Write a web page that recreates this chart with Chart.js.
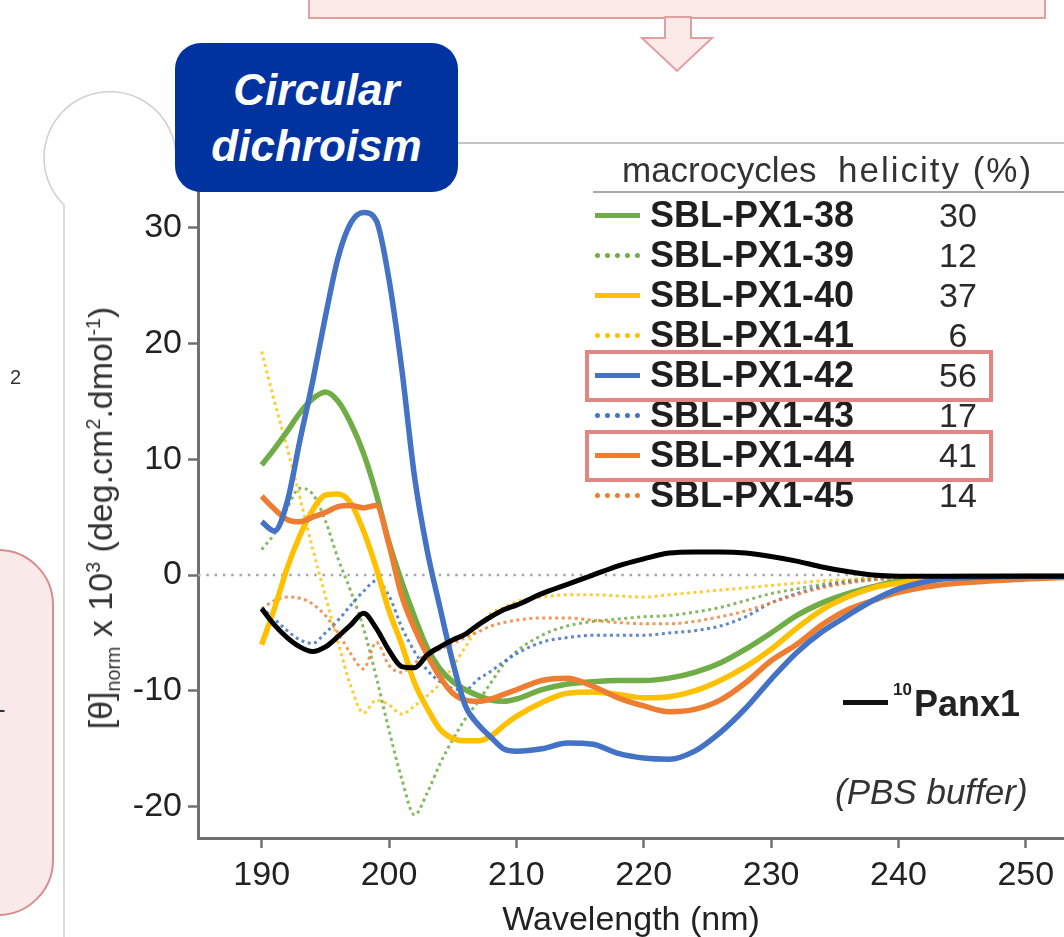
<!DOCTYPE html>
<html>
<head>
<meta charset="utf-8">
<script src="https://cdn.jsdelivr.net/npm/chart.js@4.4.1/dist/chart.umd.min.js"></script>
<style>
body{margin:0;background:#fff;font-family:'Liberation Sans',Arial,sans-serif;}
#page{position:relative;width:1064px;height:937px;overflow:hidden;background:#fff;}
#deco{position:absolute;left:0;top:0;z-index:0;}
#cd{position:absolute;left:0;top:0;z-index:1;}
#badge{position:absolute;left:175px;top:43px;width:283px;height:149px;background:#0033a0;border-radius:26px;z-index:3;
  color:#fff;font-weight:bold;font-style:italic;font-size:44px;line-height:56px;text-align:center;
  display:flex;align-items:center;justify-content:center;}
#ytitle{position:absolute;left:100px;top:518px;transform:translate(-50%,-50%) rotate(-90deg);white-space:nowrap;
  font-size:34px;color:#333;z-index:2;line-height:1;}
#ytitle sub,#ytitle sup{font-size:58%;line-height:0;}
.topline{position:absolute;height:2px;background:#c4c4c4;z-index:2;}
.hdr{position:absolute;top:150px;font-size:35px;color:#333;line-height:40px;z-index:2;white-space:nowrap;}
.row{position:absolute;left:0;height:40px;line-height:40px;z-index:4;}
.row .smp{position:absolute;left:595px;width:45px;top:18px;height:0;}
.row .nm{position:absolute;left:650px;font-weight:bold;font-size:36px;color:#1e1e1e;white-space:nowrap;}
.row .hv{position:absolute;left:908px;width:100px;text-align:center;font-size:34px;color:#2a2a2a;}
.hl{position:absolute;left:585px;width:400px;height:44px;border:4px solid #e28683;background:#fff;z-index:3;}
#panx{position:absolute;left:843px;top:682px;height:44px;z-index:2;white-space:nowrap;}
#panx .ln{position:absolute;left:0;top:18px;width:45px;height:5px;background:#111;}
#panx .sp{position:absolute;left:50px;top:-2px;font-size:17px;font-weight:bold;color:#222;}
#panx .tx{position:absolute;left:71px;top:0;font-size:36px;font-weight:bold;color:#222;line-height:44px;}
#buffer{position:absolute;left:835px;top:772px;font-size:35px;font-style:italic;color:#333;z-index:2;white-space:nowrap;}
.frag{position:absolute;color:#333;z-index:2;}
</style>
</head>
<body>
<div id="page">
  <svg id="deco" width="1064" height="937">
    <rect x="309" y="-5" width="736" height="23" fill="#fbeae8" stroke="#e0a0a0" stroke-width="2"/>
    <polygon points="665,17 691,17 691,38 712,38 677,71 642,38 665,38" fill="#fbeae8" stroke="#e0a0a0" stroke-width="2"/>
    <path d="M64 937 L64 205 A66 66 0 1 1 176 158" fill="none" stroke="#cfcfcf" stroke-width="1.5"/>
    <rect x="-60" y="550" width="113" height="365" rx="55" ry="55" fill="#f9e9e9" stroke="#d98c8c" stroke-width="2"/>
  </svg>
  <span class="frag" style="left:10px;top:366px;font-size:20px;">2</span>
  <span class="frag" style="left:-3px;top:694px;font-size:26px;">-</span>
  <canvas id="cd" width="1064" height="937"></canvas>
  <div id="badge"><div>Circular<br>dichroism</div></div>
  <div id="ytitle">[θ]<sub>norm</sub> x 10<sup>3</sup> (deg.cm<sup>2</sup>.dmol<sup>-1</sup>)</div>
  <div class="topline" style="left:458px;top:142px;width:606px;"></div>
  <div class="topline" style="left:593px;top:191px;width:471px;background:#a8a8a8;"></div>
  <div class="hdr" style="left:622px;">macrocycles</div>
  <div class="hdr" style="left:838px;letter-spacing:2px;">helicity (%)</div>
  <div id="legend"></div>
  <div id="panx"><div class="ln"></div><span class="sp">10</span><span class="tx">Panx1</span></div>
  <div id="buffer">(PBS buffer)</div>
</div>
<script>
// wavelength grid (nm)
const wavelength = [190,191,192,193,194,195,196,197,198,199,200,201,202,203,204,205,206,207,208,209,210,
  212,214,216,218,220,222,224,226,228,230,232,234,236,238,240,243,246,250,253];

// [θ]norm x 10^3
const px38 = [9.5,10.9,12.4,14.0,15.2,15.8,15.0,13.1,10.5,7.0,2.8,-0.6,-3.6,-6.3,-8.1,-9.2,-9.9,-10.4,-10.8,-10.9,-10.7,
  -9.9,-9.4,-9.2,-9.1,-9.1,-8.9,-8.4,-7.6,-6.4,-5.0,-3.5,-2.4,-1.6,-1.0,-0.5,-0.2,-0.1,-0.1,-0.1];
const px39 = [2.2,3.6,5.8,7.5,7.0,4.7,1.4,-1.4,-4.6,-8.8,-13.4,-17.6,-20.7,-18.8,-16.3,-14.2,-12.4,-10.9,-9.3,-7.7,-6.6,
  -5.2,-4.4,-4.0,-3.8,-3.6,-3.5,-3.2,-2.8,-2.2,-1.6,-1.2,-0.8,-0.5,-0.2,-0.1,-0.1,-0.1,-0.1,-0.1];
const px40 = [-6.0,-2.9,0.6,3.4,5.6,6.9,7.0,6.2,3.8,0.6,-3.1,-6.0,-9.3,-11.5,-13.3,-14.1,-14.3,-14.3,-13.9,-13.0,-12.2,
  -11.0,-10.2,-10.1,-10.3,-10.6,-10.5,-10.0,-9.1,-7.9,-6.4,-4.6,-3.0,-1.9,-1.1,-0.7,-0.3,-0.2,-0.1,-0.1];
const px41 = [19.3,15.0,11.0,6.7,2.3,-1.8,-5.8,-9.6,-11.9,-10.8,-11.2,-12.0,-11.3,-10.4,-9.4,-7.9,-6.2,-4.5,-3.3,-2.8,-2.3,
  -1.9,-1.7,-1.7,-1.8,-1.9,-1.7,-1.5,-1.3,-1.1,-0.9,-0.7,-0.5,-0.4,-0.3,-0.2,-0.1,-0.1,-0.1,-0.1];
const px42 = [4.6,3.8,6.3,11.6,16.7,22.3,27.4,30.4,31.3,30.6,25.5,17.8,8.5,2.1,-2.8,-7.5,-11.3,-12.9,-14.0,-15.0,-15.2,
  -15.0,-14.5,-14.6,-15.4,-15.8,-15.9,-15.2,-13.6,-11.5,-9.0,-6.7,-4.9,-3.5,-2.2,-1.2,-0.4,-0.2,-0.1,-0.1];
const px43 = [-2.8,-3.8,-4.8,-5.6,-5.9,-5.0,-3.9,-2.6,-1.4,-0.5,-1.8,-4.5,-6.6,-8.2,-9.2,-9.8,-9.9,-9.0,-8.3,-7.5,-6.8,
  -5.8,-5.4,-5.2,-5.2,-5.2,-5.0,-4.8,-4.4,-3.6,-2.4,-1.6,-1.0,-0.6,-0.4,-0.2,-0.1,-0.1,-0.1,-0.1];
const px44 = [6.8,5.7,4.8,4.6,5.0,5.4,5.9,6.0,5.8,6.0,2.6,-1.8,-4.6,-6.9,-8.8,-10.2,-10.8,-10.9,-10.7,-10.3,-9.9,
  -9.1,-8.9,-9.6,-10.6,-11.3,-11.8,-11.6,-10.8,-9.3,-7.4,-6.0,-4.3,-3.0,-2.2,-1.5,-0.9,-0.6,-0.35,-0.2];
const px45 = [-2.9,-2.2,-1.9,-2.0,-2.5,-3.5,-5.0,-6.8,-8.1,-5.8,-7.8,-8.4,-7.6,-6.8,-6.4,-5.9,-5.4,-4.9,-4.4,-4.1,-3.9,
  -3.7,-3.7,-3.9,-4.1,-4.2,-4.2,-4.0,-3.6,-3.1,-2.4,-1.7,-1.1,-0.7,-0.4,-0.3,-0.1,-0.1,-0.1,-0.1];
const panx1 = [-2.9,-4.3,-5.4,-6.2,-6.6,-6.2,-5.3,-4.3,-3.3,-4.6,-6.5,-7.9,-8.0,-6.9,-6.2,-5.6,-5.1,-4.3,-3.6,-3.0,-2.6,
  -1.6,-0.8,0.0,0.8,1.4,1.9,2.0,2.0,1.9,1.6,1.2,0.7,0.3,0.0,-0.1,-0.1,-0.1,-0.1,-0.1];

const seriesNames = ['SBL-PX1-38','SBL-PX1-39','SBL-PX1-40','SBL-PX1-41','SBL-PX1-42','SBL-PX1-43','SBL-PX1-44','SBL-PX1-45'];
const helicity = [30,12,37,6,56,17,41,14];
const highlighted = ['SBL-PX1-42','SBL-PX1-44'];
const xTicks = [190,200,210,220,230,240,250];
const yTicks = [-20,-10,0,10,20,30];

const seriesData = [px38,px39,px40,px41,px42,px43,px44,px45];
const colors = ['#70ad47','#70ad47','#ffc000','#ffc000','#4472c4','#4472c4','#ed7d31','#ed7d31'];
const dottedColors = ['','rgba(112,173,71,0.85)','','rgba(255,192,0,0.8)','','rgba(68,114,196,0.85)','','rgba(237,125,49,0.8)'];
const drawOrder = [5,9,4,8,2,7,3,6];

function pts(arr){ return wavelength.map((w,i)=>({x:w, y:arr[i]})); }

const datasets = seriesData.map((arr,i)=>{
  const dotted = i % 2 === 1;
  return {
    label: seriesNames[i],
    data: pts(arr),
    borderColor: dotted ? dottedColors[i] : colors[i],
    borderWidth: dotted ? 3 : 5.5,
    borderDash: dotted ? [3,3.5] : [],
    borderCapStyle: 'butt',
    pointRadius: 0,
    cubicInterpolationMode: 'monotone',
    order: drawOrder[i],
    fill: false
  };
});
datasets.push({
  label: 'Panx1', data: pts(panx1), borderColor: '#000', borderWidth: 5,
  pointRadius: 0, cubicInterpolationMode: 'monotone', order: 1, fill: false
});

const zeroLine = {
  id: 'zeroLine',
  beforeDatasetsDraw(chart){
    const {ctx, chartArea, scales:{y}} = chart;
    const py = y.getPixelForValue(0);
    ctx.save();
    ctx.strokeStyle = '#a4a4b4';
    ctx.lineWidth = 2.5;
    ctx.setLineDash([2.5,5.8]);
    ctx.beginPath(); ctx.moveTo(chartArea.left, py); ctx.lineTo(chartArea.right, py); ctx.stroke();
    ctx.restore();
  }
};

Chart.defaults.font.family = "'Liberation Sans', Arial, sans-serif";
Chart.defaults.color = '#222';

new Chart(document.getElementById('cd'), {
  type: 'line',
  data: {datasets},
  options: {
    responsive: false,
    animation: false,
    layout: {padding: {top:143, left:0, right:0, bottom:0}},
    plugins: {legend:{display:false}, tooltip:{enabled:false}},
    scales: {
      x: {
        type: 'linear', min: 185, max: 253,
        afterBuildTicks: s => { s.ticks = xTicks.map(v=>({value:v})); },
        afterFit: s => { s.height = 99; },
        border: {color:'#707070', width:3},
        grid: {drawOnChartArea:false, tickLength:10, tickColor:'#707070', tickWidth:2.5},
        ticks: {font:{size:34}, color:'#222', padding:7, maxRotation:0},
        title: {display:true, text:'Wavelength (nm)', font:{size:34, lineHeight:0.9}, color:'#222', padding:{top:0,bottom:1}}
      },
      y: {
        min: -22.7, max: 37.3,
        afterBuildTicks: s => { s.ticks = yTicks.map(v=>({value:v})); },
        afterFit: s => { s.width = 198; },
        border: {color:'#707070', width:3},
        grid: {drawOnChartArea:false, tickLength:10, tickColor:'#707070', tickWidth:2.5},
        ticks: {font:{size:34}, color:'#222', padding:6}
      }
    }
  },
  plugins: [zeroLine]
});

// table-style legend built from the series
const legendEl = document.getElementById('legend');
const rowTop = 215, rowStep = 40;
seriesNames.forEach((name,i)=>{
  const cy = rowTop + i*rowStep;
  if (highlighted.includes(name)) {
    const box = document.createElement('div');
    box.className = 'hl';
    box.style.top = (cy - 25) + 'px';
    legendEl.appendChild(box);
  }
  const row = document.createElement('div');
  row.className = 'row';
  row.style.top = (cy - 20) + 'px';
  row.style.zIndex = highlighted.includes(name) ? 4 : 2;
  const dotted = i % 2 === 1;
  const smp = dotted
    ? `border-top:5px dotted ${colors[i]};`
    : `border-top:5px solid ${colors[i]};`;
  row.innerHTML = `<div class="smp" style="${smp}"></div><span class="nm">${name}</span><span class="hv">${helicity[i]}</span>`;
  legendEl.appendChild(row);
});
</script>
</body>
</html>
